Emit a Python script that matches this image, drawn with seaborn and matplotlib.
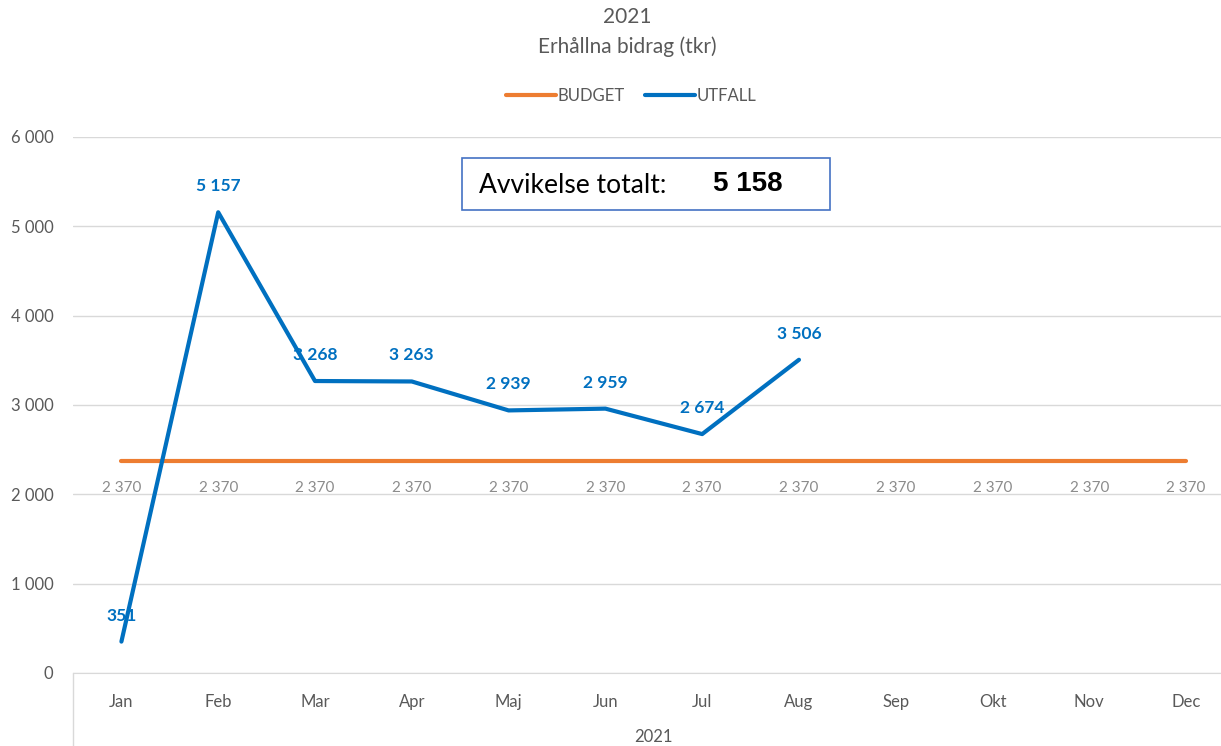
import pandas as pd
import matplotlib.pyplot as plt
import seaborn as sns

# Data
months = ['Jan', 'Feb', 'Mar', 'Apr', 'Maj', 'Jun', 'Jul', 'Aug', 'Sep', 'Okt', 'Nov', 'Dec']
budget = [2370] * 12
utfall = [351, 5157, 3268, 3263, 2939, 2959, 2674, 3506]
avvikelse = 5158

def fmt(v):
    return f'{v:,.0f}'.replace(',', ' ')

df = pd.concat([
    pd.DataFrame({'month': months, 'x': range(12), 'value': budget, 'serie': 'BUDGET'}),
    pd.DataFrame({'month': months[:len(utfall)], 'x': range(len(utfall)), 'value': utfall, 'serie': 'UTFALL'}),
])

sns.set_style("white")
plt.rcParams['font.family'] = ['Lato', 'DejaVu Sans']

fig = plt.figure(figsize=(12.21, 7.46), dpi=100)
ax = fig.add_axes([0.0598, 0.0979, 0.9402, 0.7185])

orange = '#ED7D31'
blue = '#0070C0'
grey = '#595959'

sns.lineplot(data=df, x='x', y='value', hue='serie', palette={'BUDGET': orange, 'UTFALL': blue},
             linewidth=3, ax=ax, legend=False)

# Data labels
for i, v in enumerate(budget):
    ax.annotate(fmt(v), (i, v), xytext=(0, -27), textcoords='offset pixels',
                ha='center', va='center', fontsize=11, color='#8C8C8C')
for i, v in enumerate(utfall):
    ax.annotate(fmt(v), (i, v), xytext=(0, 26), textcoords='offset pixels',
                ha='center', va='center', fontsize=12.5, color=blue, fontweight='bold')

ax.set_xlim(-0.5, 11.36)
ax.set_ylim(0, 6000)
ax.set_yticks(range(0, 6001, 1000))
ax.set_yticklabels([fmt(v) for v in range(0, 6001, 1000)], fontsize=12, color=grey)
ax.set_xticks(range(12))
ax.set_xticklabels(months, fontsize=12, color=grey)
ax.tick_params(axis='both', length=0)
ax.tick_params(axis='x', pad=15)
ax.tick_params(axis='y', pad=14)
ax.grid(axis='y', color='#D9D9D9', linewidth=1)
ax.set_axisbelow(True)
for s in ['top', 'right', 'left']:
    ax.spines[s].set_visible(False)
ax.spines['bottom'].set_color('#D9D9D9')
ax.set_xlabel('')
ax.set_ylabel('')

# Category group separator and label
ax.plot([0, 0], [0, -0.14], transform=ax.transAxes, color='#D9D9D9', linewidth=1, clip_on=False)
ax.text(6.0 / 11.86, -0.119, '2021', transform=ax.transAxes,
        ha='center', va='center', fontsize=12, color=grey)

# Titles
fig.text(0.514, 0.977, '2021', ha='center', va='center', fontsize=15, color=grey)
fig.text(0.514, 0.938, 'Erhållna bidrag (tkr)', ha='center', va='center', fontsize=15, color=grey)

# Legend
handles = [plt.Line2D([0], [0], color=orange, linewidth=3),
           plt.Line2D([0], [0], color=blue, linewidth=3)]
fig.legend(handles, ['BUDGET', 'UTFALL'], loc='center', bbox_to_anchor=(0.517, 0.871), ncol=2,
           frameon=False, fontsize=12, labelcolor=grey, handlelength=3.0, handletextpad=0.1,
           columnspacing=1.2)

# Deviation box
fig.text(0.392, 0.751, 'Avvikelse totalt:', ha='left', va='center', fontsize=19,
         color='black')
fig.text(0.584, 0.753, fmt(avvikelse), ha='left', va='center', fontsize=20, fontweight='bold',
         family=['Liberation Sans', 'DejaVu Sans'], color='black')
box = plt.Rectangle((462 / 1221, 1 - 210 / 746), (830 - 462) / 1221, 52 / 746,
                    transform=fig.transFigure, fill=False, edgecolor='#4472C4', linewidth=1.2)
fig.add_artist(box)

fig.savefig('out.png', dpi=100)
